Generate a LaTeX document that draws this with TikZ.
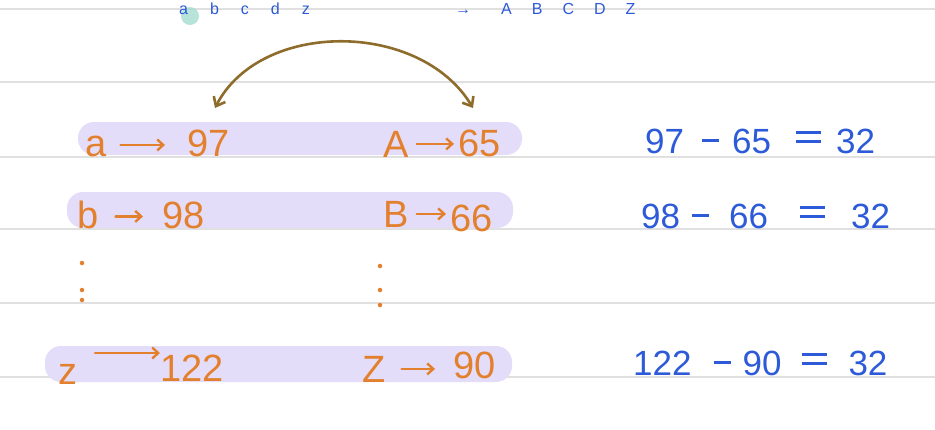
\documentclass[tikz,border=0pt]{standalone}
\usepackage{fontspec}
\setmainfont{Liberation Sans}
\usetikzlibrary{arrows.meta}
\definecolor{ruleg}{HTML}{E0E0E0}
\definecolor{lav}{HTML}{E4DDF9}
\definecolor{orng}{HTML}{E2802E}
\definecolor{blu}{HTML}{2C5AD8}
\definecolor{arcc}{HTML}{8E6C2C}
\definecolor{teal}{HTML}{A6DCCF}
\newcommand{\mysub}{\rule[11pt]{17pt}{3pt}}
\newcommand{\myeq}{\rlap{\rule[19pt]{25pt}{3pt}}\rule[10pt]{25pt}{3pt}}
\tikzset{
  rule/.style={ruleg, line width=1.4pt},
  bar/.style={fill=lav, rounded corners=16pt},
  otxt/.style={text=orng, font=\fontsize{38}{40}\selectfont, inner sep=0pt, anchor=base west},
  btxt/.style={text=blu, font=\fontsize{35}{38}\selectfont, inner sep=0pt, anchor=base west},
  ttxt/.style={text=blu, font=\fontsize{16}{18}\selectfont, inner sep=0pt, anchor=base west},
  oarr/.style={orng, line width=2.4pt, line cap=round, -{Straight Barb[length=6pt,width=11pt]}},
  swap/.style={arcc, line width=2.6pt, line cap=round, {Straight Barb[length=8pt,width=13pt]}-{Straight Barb[length=8pt,width=13pt]}},
  odot/.style={circle, fill=orng, inner sep=0pt, minimum size=4.5pt}
}
\begin{document}
\begin{tikzpicture}[x=1pt,y=-1pt]
\clip (0,0) rectangle (935,429);
\fill[white] (0,0) rectangle (935,429);
% ruled lines
\foreach \yy in {9,82,157,229,303,377} \draw[rule] (0,\yy) -- (935,\yy);
% highlight bars
\fill[bar] (78,122) rectangle (522,155);
\fill[bar] (67,192) rectangle (513,228);
\fill[bar] (45,346) rectangle (512,382);
% top heading
\fill[teal, opacity=0.8] (190,16) circle (9);
\node[ttxt] (topl) at (179,14) {a\hspace{22pt}b\hspace{22pt}c\hspace{22pt}d\hspace{22pt}z};
\node[ttxt] (topr) at (455,14) {→\hspace{30pt}A\hspace{20pt}B\hspace{20pt}C\hspace{20pt}D\hspace{20pt}Z};
% row 1
\node[otxt] (a) at (85,156) {a};
\node[otxt] (n97) at (187,156) {97};
\node[otxt] (A) at (383,157) {A};
\node[otxt] (n65) at (458,156) {65};
\draw[oarr] ([xshift=14pt,yshift=1pt]a.east) -- ([xshift=-22pt,yshift=1pt]a.east -| n97.west);
\draw[oarr] ([xshift=8pt]A.east) -- ([xshift=-4pt]A.east -| n65.west);
% row 2
\node[otxt] (b) at (77,228) {b};
\node[otxt] (n98) at (162,228) {98};
\node[otxt] (B) at (383,227) {B};
\node[otxt] (n66) at (450,231) {66};
\draw[oarr] ([xshift=17pt,yshift=-2pt]b.east) -- ([xshift=-19pt,yshift=-2pt]b.east -| n98.west);
\draw[oarr] ([xshift=8pt]B.east) -- ([xshift=-4pt]B.east -| n66.west);
% dots
\node[odot] (d1) at (82,263) {};
\node[odot] (d2) at (82,290) {};
\node[odot] (d3) at (82,300) {};
\node[odot] (d4) at (380,266) {};
\node[odot] (d5) at (380,290) {};
\node[odot] (d6) at (380,305) {};
% row 3
\node[otxt] (z) at (58,384) {z};
\node[otxt] (n122) at (160,381) {122};
\node[otxt] (Z) at (362,382) {Z};
\node[otxt] (n90) at (453,378) {90};
\coordinate (zs) at (95,353);
\draw[oarr] (zs) -- (zs -| n122.west);
\draw[oarr] ([xshift=16pt]Z.east) -- ([xshift=-18pt]Z.east -| n90.west);
% swap arc
\coordinate (arcL) at (215,108);
\coordinate (arcR) at (473,108);
\draw[swap] (arcL) .. controls (260,20) and (420,20) .. (arcR);
% differences
\node[btxt] (e1) at (645,153) {97\hspace{18pt}\mysub\hspace{13pt}65\hspace{25pt}\myeq\hspace{15pt}32};
\node[btxt] (e2) at (641,228) {98\hspace{12pt}\mysub\hspace{20pt}66\hspace{32pt}\myeq\hspace{26pt}32};
\node[btxt] (e3) at (633,375) {122\hspace{22pt}\mysub\hspace{12pt}90\hspace{20pt}\myeq\hspace{22pt}32};
\end{tikzpicture}
\end{document}
